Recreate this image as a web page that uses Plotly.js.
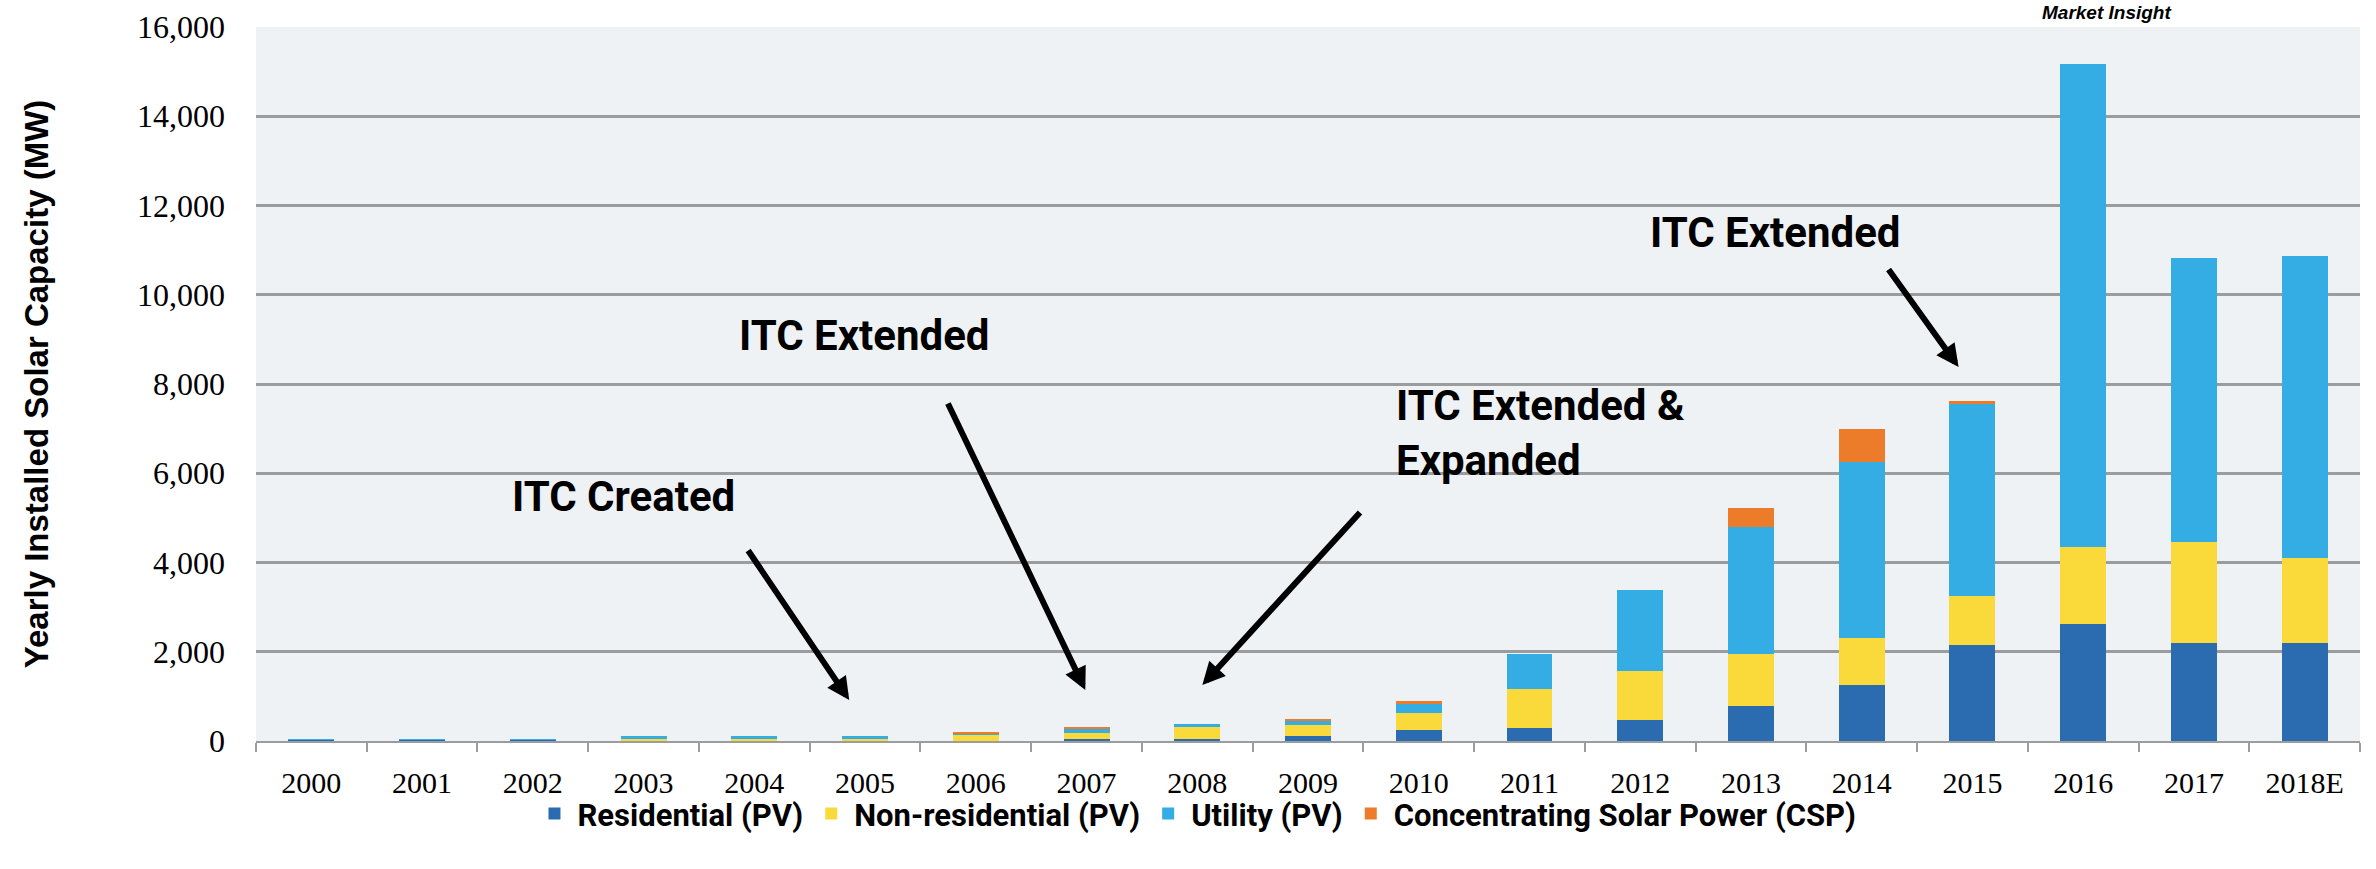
<!DOCTYPE html>
<html>
<head>
<meta charset="utf-8">
<script src="https://cdn.plot.ly/plotly-3.0.1.min.js"></script>
<style>html,body{margin:0;padding:0;background:#fff;}#chart{width:2376px;height:869px;}</style>
</head>
<body>
<div id="chart"></div>
<script>
const categories = ['2000','2001','2002','2003','2004','2005','2006','2007','2008','2009','2010','2011','2012','2013','2014','2015','2016','2017','2018E'];
const residential = [15, 20, 15, 10, 10, 10, 5, 41, 42, 103, 247, 300, 480, 787, 1266, 2150, 2630, 2200, 2200];
const nonResidential = [5, 5, 10, 40, 40, 40, 135, 140, 266, 255, 375, 855, 1093, 1153, 1034, 1090, 1710, 2250, 1900];
const utility = [30, 30, 30, 60, 60, 60, 10, 83, 67, 80, 200, 800, 1813, 2854, 3947, 4320, 10820, 6370, 6770];
const csp = [0, 0, 0, 0, 0, 0, 45, 41, 0, 56, 82, 0, 0, 419, 743, 50, 0, 0, 0];
const seriesNames = ['Residential (PV)', 'Non-residential (PV)', 'Utility (PV)', 'Concentrating Solar Power (CSP)'];
const yTickVals = [0, 2000, 4000, 6000, 8000, 10000, 12000, 14000, 16000];
const yTickText = ['0', '2,000', '4,000', '6,000', '8,000', '10,000', '12,000', '14,000', '16,000'];

const colors = ['#2B6CB1', '#FAD93A', '#33ADE3', '#EC7C2A'];
const seriesValues = [residential, nonResidential, utility, csp];

const traces = seriesValues.map((vals, i) => ({
  type: 'bar',
  name: seriesNames[i],
  x: categories,
  y: vals,
  marker: {color: colors[i], line: {width: 0}},
  hoverinfo: 'x+y+name'
}));

const annFont = {family: 'Roboto, "Liberation Sans", sans-serif', size: 42, color: '#000', weight: 700};
const arrowBase = {text: '', showarrow: true, arrowhead: 2, arrowsize: 0.75, arrowwidth: 6, arrowcolor: '#000', axref: 'x', ayref: 'y', xref: 'x', yref: 'y'};

const layout = {
  width: 2376, height: 869,
  margin: {l: 256, r: 16, t: 27, b: 128},
  paper_bgcolor: '#ffffff',
  plot_bgcolor: '#eef2f5',
  barmode: 'stack',
  bargap: 0.585,
  showlegend: true,
  legend: {
    orientation: 'h', x: 0.447, xanchor: 'center', y: -0.102, yanchor: 'middle',
    font: {family: 'Roboto, "Liberation Sans", sans-serif', size: 31, color: '#000', weight: 700},
    itemwidth: 36, traceorder: 'normal', bgcolor: 'rgba(0,0,0,0)'
  },
  xaxis: {
    type: 'category',
    showline: true, linecolor: '#9a9c9e', linewidth: 2,
    ticks: 'outside', tickson: 'boundaries', ticklen: 9, tickcolor: '#9a9c9e', tickwidth: 2,
    ticklabelstandoff: 14,
    tickfont: {family: '"Liberation Serif", serif', size: 30, color: '#000'},
    showgrid: false, zeroline: false, fixedrange: true
  },
  yaxis: {
    range: [0, 16000],
    tickvals: yTickVals, ticktext: yTickText,
    tickfont: {family: '"Liberation Serif", serif', size: 32, color: '#000'},
    ticklabelstandoff: 30,
    showgrid: true, gridcolor: '#9a9c9e', gridwidth: 3,
    zeroline: false, showline: false, ticks: '',
    title: {text: 'Yearly Installed Solar Capacity (MW)', standoff: 78,
            font: {family: '"Liberation Sans", Arial, sans-serif', size: 33, color: '#000', weight: 700}},
    fixedrange: true
  },
  annotations: [
    {x: 2.815, y: 5468, xref: 'x', yref: 'y', text: 'ITC Created', showarrow: false, font: annFont},
    {x: 4.992, y: 9098, xref: 'x', yref: 'y', text: 'ITC Extended', showarrow: false, font: annFont},
    {x: 9.78, y: 6902, xref: 'x', yref: 'y', text: 'ITC Extended &amp;<br>Expanded', showarrow: false, xanchor: 'left', align: 'left', font: annFont},
    {x: 13.213, y: 11406, xref: 'x', yref: 'y', text: 'ITC Extended', showarrow: false, font: annFont},
    Object.assign({}, arrowBase, {x: 4.857, y: 919, ax: 3.935, ay: 4303}),
    Object.assign({}, arrowBase, {x: 6.989, y: 1143, ax: 5.742, ay: 7597}),
    Object.assign({}, arrowBase, {x: 8.046, y: 1255, ax: 9.482, ay: 5154}),
    Object.assign({}, arrowBase, {x: 14.875, y: 8381, ax: 14.233, ay: 10600}),
    {x: (2173 - 256) / 2104, y: 1.021, xref: 'paper', yref: 'paper', yanchor: 'middle', text: '<b><i>Market Insight</i></b>', showarrow: false,
     font: {family: '"Liberation Sans", Arial, sans-serif', size: 19, color: '#000'}}
  ]
};

Plotly.newPlot('chart', traces, layout, {displayModeBar: false, staticPlot: true});
</script>
</body>
</html>
